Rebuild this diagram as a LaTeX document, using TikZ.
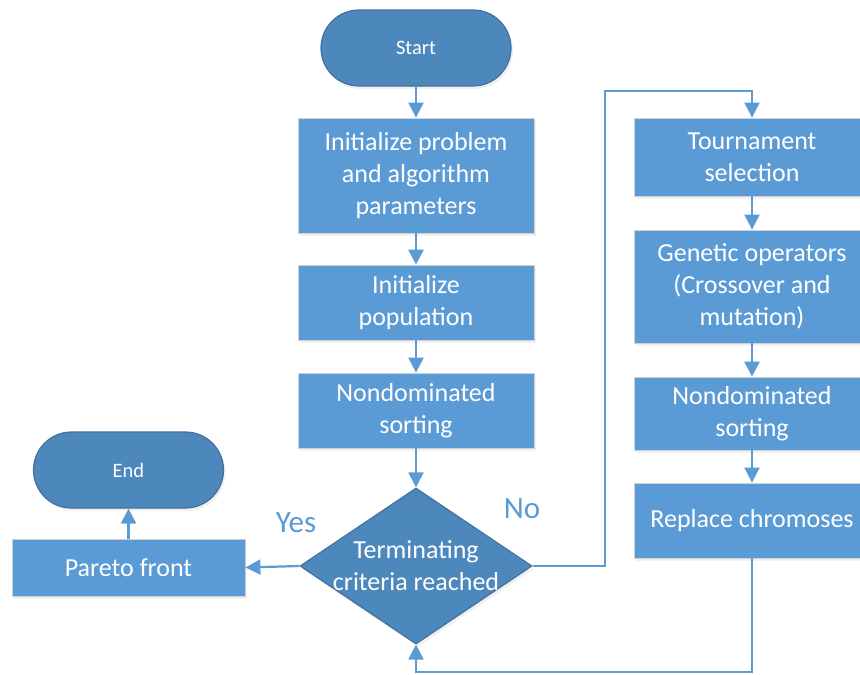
\documentclass[tikz,border=0pt]{standalone}
\usepackage{fontspec}
\setmainfont{Carlito}
\usetikzlibrary{shapes.geometric,arrows.meta,shadows}
\definecolor{boxblue}{HTML}{5B9BD5}
\definecolor{termblue}{HTML}{4D88BD}
\definecolor{termline}{HTML}{41719C}

\begin{document}
\begin{tikzpicture}[x=1pt, y=-1pt,
  proc/.style={draw=black!18, line width=0.8pt, fill=boxblue, text=white, minimum width=236pt, align=center, inner sep=0pt, font=\fontsize{26}{32}\selectfont, drop shadow={opacity=0.12, shadow xshift=2pt, shadow yshift=-3pt}},
  term/.style={draw=termline, line width=1.2pt, fill=termblue, text=white, rounded corners=38pt, minimum width=190pt, minimum height=76pt, font=\fontsize{20.5}{24}\selectfont, drop shadow={opacity=0.12, shadow xshift=2pt, shadow yshift=-3pt}},
  dec/.style={diamond, draw=termline, line width=1.2pt, fill=termblue, inner sep=0pt, minimum width=232pt, minimum height=156pt, drop shadow={opacity=0.12, shadow xshift=2pt, shadow yshift=-3pt}},
  dectext/.style={text=white, align=center, font=\fontsize{26}{32}\selectfont},
  flow/.style={draw=boxblue, line width=2.2pt, -{Triangle[width=15pt,length=15pt]}},
  lbl/.style={text=boxblue, font=\fontsize{31}{36}\selectfont}]
\useasboundingbox (0,0) rectangle (860,675);

\node[term] (start) at (416,48) {Start};
\node[proc, minimum height=115pt] (init) at (416,175.5) {Initialize problem\\and algorithm\\parameters};
\node[proc, minimum height=75pt] (pop) at (416,302.5) {Initialize\\population};
\node[proc, minimum height=75pt] (sort1) at (416,410.5) {Nondominated\\sorting};
\node[dec] (crit) at (416,566) {};
\node[dectext] (crittext) at (crit) {Terminating\\criteria reached};

\node[proc, minimum height=57pt, minimum width=233pt] (pareto) at (128.5,567.5) {Pareto front};
\node[term] (end) at (128.5,470) {End};

\node[proc, minimum height=78pt] (tour) at (752,157) {Tournament\\selection};
\node[proc, minimum height=113pt] (gen) at (752,286.5) {Genetic operators\\(Crossover and\\mutation)};
\node[proc, minimum height=73pt] (sort2) at (752,413.5) {Nondominated\\sorting};
\node[proc, minimum height=75pt] (repl) at (752,520.5) {Replace chromoses};

\node[lbl] (yes) at (296,523) {Yes};
\node[lbl] (no) at (522,509) {No};

\coordinate (bendA) at (605,91);
\coordinate (bendB) at (752,672);

\draw[flow] (start) -- (init);
\draw[flow] (init) -- (pop);
\draw[flow] (pop) -- (sort1);
\draw[flow] (sort1) -- (crit);
\draw[flow] (crit.west) -- (pareto.east);
\draw[flow] (pareto) -- (end);

\draw[flow] (crit.east) -| (bendA) -| (tour.north);
\draw[flow] (tour) -- (gen);
\draw[flow] (gen) -- (sort2);
\draw[flow] (sort2) -- (repl);
\draw[flow] (repl.south) -- (bendB) -| (crit.south);

\end{tikzpicture}
\end{document}
